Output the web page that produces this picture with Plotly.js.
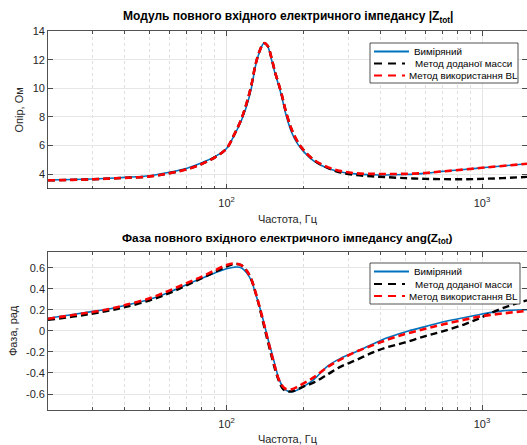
<!DOCTYPE html>
<html>
<head>
<meta charset="utf-8">
<script src="https://cdn.plot.ly/plotly-3.0.1.min.js"></script>
<style>html,body{margin:0;padding:0;background:#fff;}#chart{width:527px;height:445px;}</style>
</head>
<body>
<div id="chart"></div>
<script>
// Frequencies, Hz
const freq = [20, 25, 30, 35, 40, 50, 60, 70, 80, 90, 100, 107, 114, 120, 125, 130, 135, 140, 145, 150, 155, 160, 165, 170, 180, 190, 200, 220, 250, 280, 320, 370, 420, 500, 600, 700, 850, 1000, 1200, 1500];

// |Z_tot|, Ohm
const magMeasured = [3.6, 3.63, 3.67, 3.72, 3.78, 3.9, 4.15, 4.42, 4.8, 5.23, 5.8, 6.7, 7.7, 8.8, 10.0, 11.6, 12.6, 13.15, 12.9, 12.0, 11.0, 10.2, 9.3, 8.3, 6.9, 6.1, 5.6, 4.92, 4.4, 4.16, 4.03, 3.97, 3.95, 3.98, 4.06, 4.2, 4.33, 4.45, 4.58, 4.73];
const magAddedMass = [3.58, 3.61, 3.65, 3.7, 3.75, 3.85, 4.08, 4.35, 4.72, 5.18, 5.8, 6.75, 7.8, 9.0, 10.2, 11.7, 12.65, 13.15, 12.95, 12.1, 11.1, 10.3, 9.45, 8.5, 7.1, 6.25, 5.7, 4.98, 4.42, 4.12, 3.95, 3.86, 3.8, 3.73, 3.68, 3.66, 3.65, 3.68, 3.73, 3.82];
const magBL = [3.58, 3.61, 3.65, 3.7, 3.75, 3.85, 4.08, 4.35, 4.72, 5.18, 5.8, 6.75, 7.8, 9.0, 10.2, 11.7, 12.65, 13.15, 12.95, 12.1, 11.1, 10.3, 9.45, 8.5, 7.1, 6.25, 5.7, 5.0, 4.48, 4.22, 4.07, 4.03, 4.02, 4.03, 4.09, 4.2, 4.33, 4.45, 4.58, 4.73];

// ang(Z_tot), rad
const phMeasured = [0.12, 0.155, 0.185, 0.21, 0.24, 0.30, 0.37, 0.44, 0.50, 0.55, 0.59, 0.605, 0.60, 0.55, 0.476, 0.35, 0.22, 0.08, -0.07, -0.2, -0.33, -0.45, -0.52, -0.56, -0.58, -0.56, -0.53, -0.46, -0.33, -0.26, -0.2, -0.13, -0.07, -0.01, 0.04, 0.085, 0.125, 0.16, 0.19, 0.20];
const phAddedMass = [0.105, 0.135, 0.165, 0.195, 0.225, 0.29, 0.36, 0.435, 0.50, 0.56, 0.61, 0.635, 0.625, 0.57, 0.49, 0.36, 0.21, 0.05, -0.1, -0.24, -0.37, -0.47, -0.54, -0.57, -0.575, -0.555, -0.53, -0.49, -0.41, -0.34, -0.28, -0.21, -0.16, -0.11, -0.05, -0.005, 0.06, 0.13, 0.215, 0.29];
const phBL = [0.115, 0.15, 0.18, 0.21, 0.245, 0.31, 0.385, 0.455, 0.515, 0.575, 0.625, 0.64, 0.625, 0.57, 0.49, 0.36, 0.22, 0.07, -0.08, -0.22, -0.35, -0.46, -0.52, -0.55, -0.555, -0.53, -0.5, -0.44, -0.34, -0.27, -0.2, -0.14, -0.09, -0.03, 0.02, 0.06, 0.105, 0.14, 0.165, 0.19];

// Axis ticks
const xMajorTicks = [100, 1000];
const xMajorText = ['10<sup>2</sup>', '10<sup>3</sup>'];
const xMinorTicks = [30, 40, 50, 60, 70, 80, 90, 200, 300, 400, 500, 600, 700, 800, 900];
const magTicks = [4, 6, 8, 10, 12, 14];
const phTicks = [-0.6, -0.4, -0.2, 0, 0.2, 0.4, 0.6];
const phTickText = ['-0.6', '-0.4', '-0.2', '0', '0.2', '0.4', '0.6'];

const names = ['Виміряний', 'Метод доданої масси', 'Метод використання BL'];
const titles = ['<b>Модуль повного вхідного електричного імпедансу |Z<sub>tot</sub>|</b>',
                '<b>Фаза повного вхідного електричного імпедансу ang(Z<sub>tot</sub>)</b>'];

const styles = [
  {color: '#0072BD', width: 1.6, dash: 'solid'},
  {color: '#000000', width: 2.4, dash: '7px,4px'},
  {color: '#FF0000', width: 2.6, dash: '7px,4px'}
];

const W = 527, H = 445, ML = 48, MR = 0;
const px2x = (px) => (px - ML) / (W - ML - MR);
const px2y = (py) => 1 - py / H;

function tr(y, i, xa, ya) {
  return {x: freq, y: y, type: 'scatter', mode: 'lines', name: names[i],
          xaxis: xa, yaxis: ya, showlegend: false,
          line: Object.assign({shape: 'spline', smoothing: 1}, styles[i])};
}

const data = [
  tr(magMeasured, 0, 'x', 'y'),
  tr(magAddedMass, 1, 'x', 'y'),
  tr(magBL, 2, 'x', 'y'),
  tr(phMeasured, 0, 'x2', 'y2'),
  tr(phAddedMass, 1, 'x2', 'y2'),
  tr(phBL, 2, 'x2', 'y2')
];

const axCol = '#262626';
function xAxis(anchor) {
  return {
    type: 'log', anchor: anchor, domain: [0, 1],
    range: [Math.log10(20), Math.log10(1500)],
    tickmode: 'array', tickvals: xMajorTicks, ticktext: xMajorText,
    ticks: 'inside', ticklen: 5, tickcolor: axCol, tickwidth: 0.8,
    ticklabelstandoff: 4,
    showline: true, linecolor: axCol, linewidth: 0.8, mirror: 'ticks',
    showgrid: true, gridcolor: '#e6e6e6', gridwidth: 1, zeroline: false,
    minor: {tickmode: 'array', tickvals: xMinorTicks, ticks: 'inside', ticklen: 3,
            tickcolor: axCol, showgrid: true, gridcolor: '#d6d6d6', griddash: 'dot', gridwidth: 0.8},
    tickfont: {size: 11, color: axCol},
    title: {text: 'Частота, Гц', font: {size: 11, color: axCol}, standoff: 7}
  };
}
function yAxis(anchor, dom, rng, tv, tt, ttl) {
  const a = {
    anchor: anchor, domain: dom, range: rng,
    tickmode: 'array', tickvals: tv,
    ticks: 'inside', ticklen: 5, tickcolor: axCol, tickwidth: 0.8,
    showline: true, linecolor: axCol, linewidth: 0.8, mirror: 'ticks',
    showgrid: true, gridcolor: '#e6e6e6', gridwidth: 1, zeroline: false,
    tickfont: {size: 11, color: axCol},
    title: {text: ttl, font: {size: 11, color: axCol}, standoff: 6}
  };
  if (tt) a.ticktext = tt;
  return a;
}

// Compact legends (MATLAB style), drawn as shapes + text
const shapes = [];
const annotations = [];
function addLegend(box, rows) {
  shapes.push({type: 'rect', xref: 'paper', yref: 'paper',
               x0: px2x(box[0]), x1: px2x(box[1]), y0: px2y(box[3]), y1: px2y(box[2]),
               fillcolor: '#ffffff', line: {color: axCol, width: 0.8}, layer: 'above'});
  const textX = [412, 413, 407];
  const lineEnd = [409, 405, 405];
  rows.forEach((ry, i) => {
    shapes.push({type: 'line', xref: 'paper', yref: 'paper',
                 x0: px2x(box[0] + 4), x1: px2x(lineEnd[i]), y0: px2y(ry), y1: px2y(ry),
                 line: {color: styles[i].color, width: 2, dash: i === 0 ? 'solid' : '8px,6px'},
                 layer: 'above'});
    annotations.push({text: names[i], xref: 'paper', yref: 'paper', x: px2x(textX[i]), y: px2y(ry),
                      xanchor: 'left', yanchor: 'middle', showarrow: false,
                      font: {size: 9.8, color: '#000'}});
  });
}
addLegend([370, 518, 43, 83], [51.5, 63.5, 75.5]);
addLegend([370, 520, 263, 304], [271.5, 284, 296]);

annotations.push(
  {text: titles[0], xref: 'paper', yref: 'paper', x: 0.5, y: px2y(17), xanchor: 'center', yanchor: 'middle',
   showarrow: false, font: {size: 12, color: '#000'}},
  {text: titles[1], xref: 'paper', yref: 'paper', x: 0.5, y: px2y(238), xanchor: 'center', yanchor: 'middle',
   showarrow: false, font: {size: 11.8, color: '#000'}}
);

const layout = {
  width: W, height: H,
  margin: {l: ML, r: MR, t: 0, b: 0},
  paper_bgcolor: '#ffffff', plot_bgcolor: '#ffffff',
  font: {family: 'Liberation Sans, Arial, sans-serif', size: 11, color: axCol},
  showlegend: false,
  xaxis: xAxis('y'),
  yaxis: yAxis('x', [0.5762, 0.9303], [3, 14], magTicks, null, 'Опір, Ом'),
  xaxis2: xAxis('y2'),
  yaxis2: yAxis('x2', [0.0791, 0.4339], [-0.75, 0.75], phTicks, phTickText, 'Фаза, рад'),
  shapes: shapes,
  annotations: annotations
};

Plotly.newPlot('chart', data, layout, {displayModeBar: false, staticPlot: true});
</script>
</body>
</html>
